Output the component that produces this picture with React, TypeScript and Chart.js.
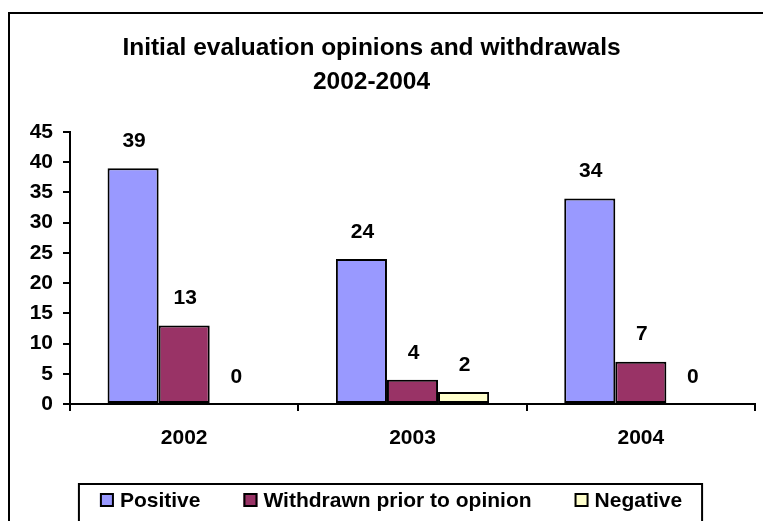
import React, { useEffect, useRef } from "react";
import { Chart, registerables } from "chart.js";

Chart.register(...registerables);

const categories = ["2002", "2003", "2004"];
const positive = [39, 24, 34];
const withdrawn = [13, 4, 7];
const negative = [0, 2, 0];
const seriesNames = ["Positive", "Withdrawn prior to opinion", "Negative"];
const seriesColors = ["#9999FF", "#993366", "#FFFFCC"];
const yTicks = [0, 5, 10, 15, 20, 25, 30, 35, 40, 45];
const titleLines = ["Initial evaluation opinions and withdrawals", "2002-2004"];

const FONT = "Arial, 'Liberation Sans', sans-serif";

const decorPlugin = {
  id: "decor",
  afterDraw(chart: any) {
    const ctx = chart.ctx;
    ctx.save();
    // outer frame
    ctx.strokeStyle = "#000";
    ctx.lineWidth = 2;
    ctx.strokeRect(9, 13, 900, 700);

    // title
    ctx.fillStyle = "#000";
    ctx.font = `bold 24.5px ${FONT}`;
    ctx.textAlign = "center";
    ctx.textBaseline = "middle";
    ctx.fillText(titleLines[0], 371.5, 48);
    ctx.fillText(titleLines[1], 371.5, 82);

    // data labels
    ctx.font = `bold 21px ${FONT}`;
    chart.data.datasets.forEach((ds: any, i: number) => {
      const meta = chart.getDatasetMeta(i);
      meta.data.forEach((bar: any, j: number) => {
        ctx.fillText(String(ds.data[j]), bar.x + 1, bar.y - 27);
      });
    });

    // legend
    ctx.font = `bold 21px ${FONT}`;
    const box = 14;
    const gapText = 6;
    const gapItem = 43;
    const widths = chart.data.datasets.map((ds: any) => ctx.measureText(ds.label).width);
    const total =
      widths.reduce((a: number, w: number) => a + box + gapText + w, 0) + gapItem * (widths.length - 1);
    const cx = 391;
    let x = cx - total / 2;
    const cy = 500;
    const left = x - 22;
    const right = x + total + 21;
    ctx.lineWidth = 2;
    ctx.strokeStyle = "#000";
    ctx.strokeRect(left + 1, 484, right - left - 2, 200);
    ctx.textAlign = "left";
    chart.data.datasets.forEach((ds: any, i: number) => {
      ctx.fillStyle = ds.backgroundColor;
      ctx.fillRect(x, cy - box / 2, box, box);
      ctx.lineWidth = 2;
      ctx.strokeRect(x + 1, cy - box / 2 + 1, box - 2, box - 2);
      ctx.fillStyle = "#000";
      ctx.fillText(ds.label, x + box + gapText, cy + 1);
      x += box + gapText + widths[i] + gapItem;
    });
    ctx.restore();
  },
};

export default function App() {
  const ref = useRef<HTMLCanvasElement>(null);
  useEffect(() => {
    if (!ref.current) return;
    const series = [positive, withdrawn, negative];
    const chart = new Chart(ref.current, {
      type: "bar",
      data: {
        labels: categories,
        datasets: series.map((d, i) => ({
          label: seriesNames[i],
          data: d,
          backgroundColor: seriesColors[i],
          borderColor: "#000",
          borderWidth: (c: any) => (c.raw === 0 ? 0 : 2),
          borderSkipped: false,
          categoryPercentage: 0.671,
          barPercentage: 1,
        })),
      },
      options: {
        responsive: false,
        animation: false,
        layout: { padding: { left: 0, right: 8, top: 132, bottom: 77 } },
        plugins: {
          legend: { display: false },
          title: { display: false },
          tooltip: { enabled: false },
        },
        scales: {
          x: {
            afterFit: (s: any) => {
              s.height = 40;
            },
            grid: {
              display: true,
              drawOnChartArea: false,
              drawTicks: true,
              tickLength: 7,
              color: "#000",
              lineWidth: 2,
              offset: true,
            },
            border: { display: true, color: "#000", width: 2 },
            ticks: {
              color: "#000",
              font: { family: FONT, size: 21, weight: "bold" },
              padding: 15,
              maxRotation: 0,
            },
          },
          y: {
            min: 0,
            max: 45,
            afterFit: (s: any) => {
              s.width = 70;
            },
            afterBuildTicks: (s: any) => {
              s.ticks = yTicks.map((v) => ({ value: v }));
            },
            grid: {
              display: true,
              drawOnChartArea: false,
              drawTicks: true,
              tickLength: 7,
              color: "#000",
              lineWidth: 2,
            },
            border: { display: true, color: "#000", width: 2 },
            ticks: {
              color: "#000",
              font: { family: FONT, size: 21, weight: "bold" },
              padding: 10,
            },
          },
        },
      },
      plugins: [decorPlugin],
    });
    return () => chart.destroy();
  }, []);
  return (
    <div style={{ position: "absolute", left: 0, top: 0, width: 763, height: 521, background: "#fff" }}>
      <canvas ref={ref} width={763} height={521} style={{ display: "block" }} />
    </div>
  );
}
